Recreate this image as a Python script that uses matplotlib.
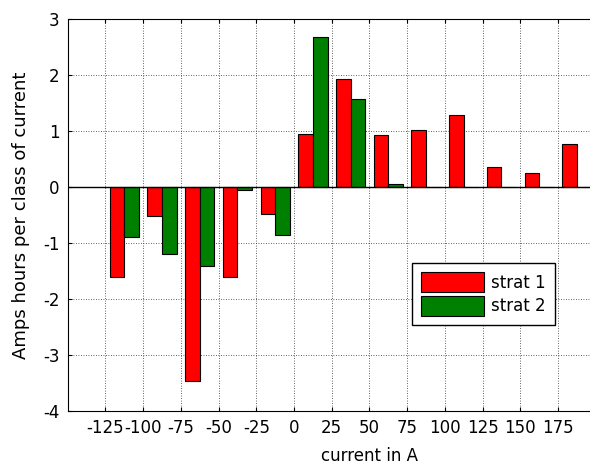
import numpy as np
import matplotlib.pyplot as plt

plt.rcParams['font.family'] = 'DejaVu Sans'
plt.rcParams['font.size'] = 12
plt.rcParams['axes.unicode_minus'] = False

# centre of each current class (A), 25 A wide bins
current_classes = [-112.5, -87.5, -62.5, -37.5, -12.5, 12.5, 37.5,
                   62.5, 87.5, 112.5, 137.5, 162.5, 187.5]
# amp hours spent in each class
strat1 = [-1.61, -0.51, -3.46, -1.61, -0.49, 0.95, 1.92,
          0.93, 1.01, 1.29, 0.36, 0.25, 0.77]
strat2 = [-0.90, -1.19, -1.41, -0.05, -0.86, 2.67, 1.58,
          0.06, 0.0, 0.0, 0.0, 0.0, 0.0]

x_ticks = [-125, -100, -75, -50, -25, 0, 25, 50, 75, 100, 125, 150, 175]
y_ticks = [-4, -3, -2, -1, 0, 1, 2, 3]

W, H = 590, 467
fig = plt.figure(figsize=(W / 100, H / 100), dpi=100)
ax = fig.add_axes([67.7 / W, 1 - 411 / H, 603.5 / W, 392 / H])

bw = 9.7
x = np.array(current_classes)
ax.bar(x - bw / 2, strat1, width=bw, color='#ff0000', edgecolor='black',
       linewidth=0.8, label='strat 1', zorder=3)
ax.bar(x + bw / 2, strat2, width=bw, color='#008000', edgecolor='black',
       linewidth=0.8, label='strat 2', zorder=3)
ax.axhline(0, color='black', linewidth=1.0, zorder=4)

ax.set_xlim(-150, 250)
ax.set_ylim(-4, 3)
ax.set_xticks(x_ticks)
ax.set_yticks(y_ticks)
ax.tick_params(direction='in', length=3, width=0.8, top=True, right=True,
               labelsize=12, pad=6)
ax.grid(True, color='#303030', linestyle=(0, (1, 2)), linewidth=0.6)
ax.set_axisbelow(True)
for s in ax.spines.values():
    s.set_linewidth(0.8)

ax.set_xlabel('current in A', labelpad=7)
ax.set_ylabel('Amps hours per class of current', fontsize=13, labelpad=9)

leg = ax.legend(loc='upper left', bbox_to_anchor=(412.3 / W, 1 - 262.7 / H),
                bbox_transform=fig.transFigure, borderaxespad=0,
                fancybox=False, edgecolor='black', framealpha=1,
                handlelength=3.75, handleheight=1.5, handletextpad=0.45,
                labelspacing=0.2, borderpad=0.55)
leg.get_frame().set_linewidth(1.0)

fig.savefig('out.png', dpi=100)
